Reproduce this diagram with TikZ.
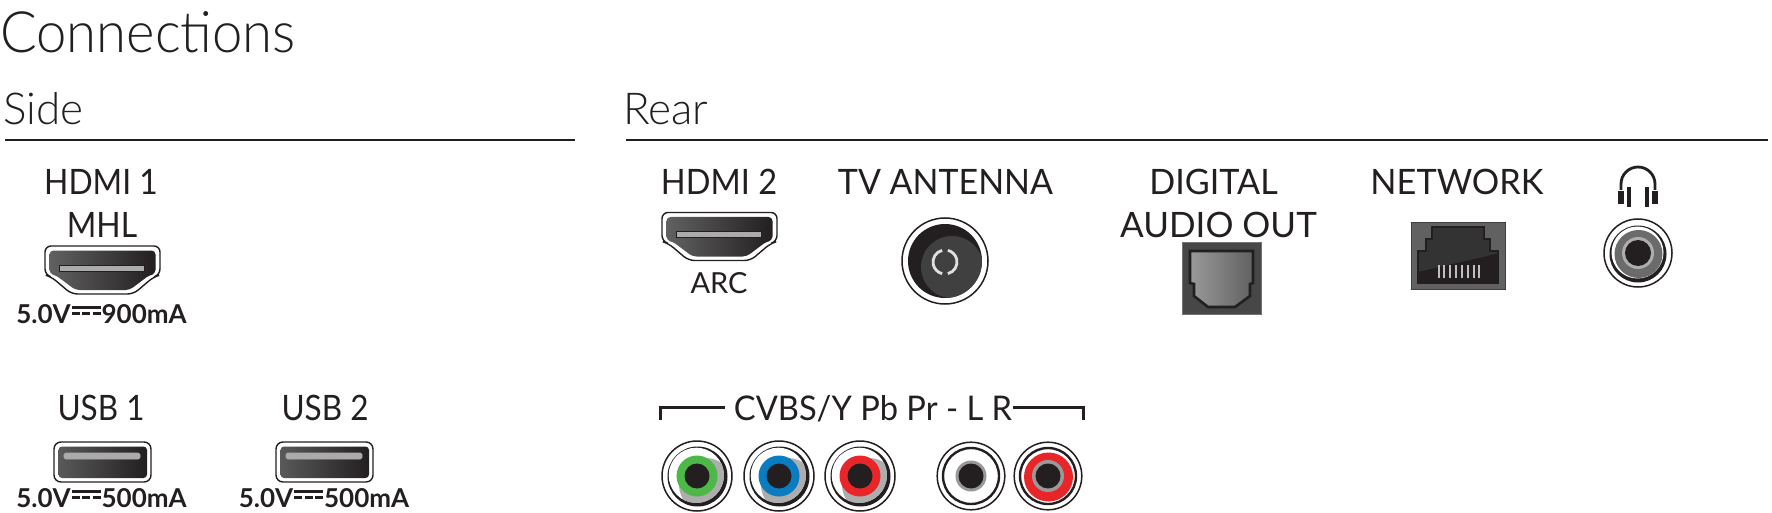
\documentclass[tikz,border=0pt]{standalone}
\usepackage{fontspec}
\usepackage{graphicx}
\setmainfont{Lato}
\newfontfamily\lightfont{Lato Light}
\definecolor{ink}{HTML}{231F20}
\definecolor{slotgray}{HTML}{ABABAB}
\tikzset{
  lbl/.style={anchor=base,inner sep=0pt,text=ink,font=\fontsize{35}{35}\selectfont},
  small/.style={anchor=base,inner sep=0pt,text=ink,font=\fontsize{29}{29}\selectfont},
  volt/.style={anchor=base,inner sep=0pt,text=ink,font=\bfseries\fontsize{26}{26}\selectfont},
  head/.style={anchor=base west,inner sep=0pt,text=ink,font=\lightfont\fontsize{44}{44}\selectfont},
  rule line/.style={draw=ink,line width=1.8pt},
  thinring/.style={draw=ink,line width=1.5pt,fill=white},
  bracket/.style={draw=ink,line width=3pt}
}
\newcommand{\sq}[2]{\scalebox{#1}[1]{#2}}
\newcommand{\dcs}{\hspace{1pt}\rlap{\raisebox{14pt}{\rule{29pt}{3pt}}}\raisebox{8.5pt}{\rule{8pt}{3pt}\hspace{2.5pt}\rule{8pt}{3pt}\hspace{2.5pt}\rule{8pt}{3pt}}\hspace{1pt}}
% HDMI icon: centre x, top y
\newcommand{\hdmiicon}[2]{\begin{scope}[shift={(#1,#2)}]
  \draw[ink,line width=1.4pt,fill=white,rounded corners=6pt] (-57.5,0) -- (57.5,0) -- (57.5,29) -- (51,31) -- (31,48) -- (-31,48) -- (-51,31) -- (-57.5,29) -- cycle;
  \shade[left color=black!62,right color=ink,rounded corners=4pt] (-53,4.5) -- (53,4.5) -- (53,28) -- (47,29) -- (27,44) -- (-27,44) -- (-47,29) -- (-53,28) -- cycle;
  \fill[slotgray] (-43,19) rectangle (42,25);
  \draw[ink,line width=0.8pt] (-43,19) rectangle (42,25);
\end{scope}}
% USB icon: left, top
\newcommand{\usbicon}[2]{\begin{scope}[shift={(#1,#2)}]
  \draw[ink,line width=1.4pt,fill=white,rounded corners=7pt] (0,0) rectangle (97,40);
  \shade[left color=black!65,right color=ink,rounded corners=3.5pt] (4.5,4.5) rectangle (93,36);
  \draw[slotgray,fill=slotgray,line width=0.6pt,rounded corners=1.5pt] (10,11) rectangle (86,17);
\end{scope}}
% RCA socket: x, y, colour
\newcommand{\rca}[3]{\begin{scope}[shift={(#1,#2)}]
  \draw[thinring] (0,0) circle (35pt);
  \fill[ink] (0.5,0.5) circle (30pt);
  \fill[white] (-0.7,-0.7) circle (27.6pt);
  \begin{scope}
    \clip (-0.7,-0.7) circle (27.6pt);
    \fill[black!32] (9,9) circle (27pt);
  \end{scope}
  \fill[#3] (0,0) circle (20.5pt);
  \fill[ink] (0,0) circle (12.5pt);
\end{scope}}
\definecolor{rcagreen}{HTML}{4DB848}
\definecolor{rcablue}{HTML}{0A7CC1}
\definecolor{rcared}{HTML}{E8262A}
\begin{document}
\begin{tikzpicture}[x=1pt,y=-1pt]
\useasboundingbox (0,0) rectangle (1772,513);
% headings
\node[head,font=\lightfont\fontsize{57}{57}\selectfont] (title) at (0,53) {\sq{0.955}{Connections}};
\node[head] (side) at (3,125) {Side};
\node[head] (rear) at (623,125) {Rear};
\draw[rule line] (5,140) -- (575,140);
\draw[rule line] (626,140) -- (1768,140);
% left column
\node[lbl] (hdmione) at (101,195) {\sq{0.91}{HDMI 1}};
\node[lbl] (mhl) at (102,237) {\sq{0.91}{MHL}};
\hdmiicon{102.5}{246}
\node[volt] (v1) at (101.5,323) {5.0V\dcs 900mA};
\node[lbl] (usbone) at (101,420) {\sq{0.9}{USB 1}};
\usbicon{54}{442}
\node[volt] (v2) at (101.5,507) {5.0V\dcs 500mA};
\node[lbl] (usbtwo) at (325,420) {\sq{0.9}{USB 2}};
\usbicon{276}{442}
\node[volt] (v3) at (324,507) {5.0V\dcs 500mA};
% rear row 1
\node[lbl] (hdmitwo) at (719,195) {\sq{0.93}{HDMI 2}};
\hdmiicon{719.5}{212.5}
\node[small] (arc) at (719,293) {ARC};
\node[lbl] (tv) at (945.5,195) {\sq{0.97}{TV ANTENNA}};
\draw[thinring] (945,261) circle (43pt);
\fill[ink] (945,261) circle (37pt);
\begin{scope}
  \clip (945,261) circle (37pt);
  \fill[black!75] (952,267) circle (31pt);
\end{scope}
\draw[white!88!black,line width=2.8pt] (945,262) ++(-76:12pt) arc (-76:76:12pt);
\draw[white!88!black,line width=2.8pt] (945,262) ++(104:12pt) arc (104:256:12pt);
\node[lbl] (digital) at (1213.5,195) {\sq{0.975}{DIGITAL}};
\node[lbl] (audio) at (1218.5,237) {AUDIO OUT};
\fill[black!72,draw=black!55,line width=0.8pt] (1182,242) rectangle (1261,314);
\shade[left color=black!40,right color=black!62,draw=ink,line width=2.6pt] (1190,251) -- (1253,251) -- (1253,283) -- (1250,284) -- (1250,296) -- (1235,307) -- (1208,307) -- (1194,296) -- (1194,284) -- (1190,283) -- cycle;
\node[lbl] (net) at (1457,195) {\sq{0.98}{NETWORK}};
\fill[black!62,draw=black!75,line width=0.8pt] (1411,222) rectangle (1505,289);
\fill[black!80] (1418,283) -- (1418,251) -- (1426,251) -- (1426,239) -- (1432,239) -- (1432,227) -- (1484,227) -- (1484,239) -- (1490,239) -- (1490,251) -- (1498,251) -- (1498,283) -- cycle;
\draw[ink,line width=1.8pt] (1418,283) -- (1418,251) -- (1426,251) -- (1426,239) -- (1432,239) -- (1432,227) -- (1484,227) -- (1484,239) -- (1490,239) -- (1490,251) -- (1498,251) -- (1498,283) -- cycle;
\fill[ink] (1418,272) -- (1498,253.5) -- (1498,283) -- (1418,283) -- cycle;
\foreach \k in {0,...,7} \fill[black!25] ({1437.5+\k*5.85},265) rectangle ++(2,12.5);
% headphones
\draw[ink,line width=2.8pt] (1621,190) -- (1621,184) arc (180:0:17pt) -- (1655,190);
\fill[ink] (1618,191) rectangle (1624,204);
\fill[ink] (1627,187) rectangle (1631,207);
\fill[ink] (1645,187) rectangle (1649,207);
\fill[ink] (1652,191) rectangle (1658,204);
% jack
\draw[thinring] (1638,253) circle (34pt);
\fill[ink] (1638,254) circle (28.5pt);
\fill[white] (1637.5,252.5) circle (26pt);
\fill[black!58] (1638.5,254) circle (24pt);
\fill[black!32] (1638,253) circle (16pt);
\fill[ink] (1638,253) circle (13pt);
% rear row 2
\node[lbl] (cvbs) at (873,420) {\sq{0.96}{\fontsize{34}{34}\selectfont CVBS/Y Pb Pr - L R}};
\coordinate (bl) at (660,420);
\coordinate (br) at (1083,420);
\draw[bracket] (bl) |- ([xshift=-9pt,yshift=1pt]cvbs.west);
\draw[bracket] (br) |- ([xshift=1pt,yshift=1pt]cvbs.east);
\rca{697}{476}{rcagreen}
\rca{779}{476}{rcablue}
\rca{860}{476}{rcared}
% L
\draw[thinring] (971,476) circle (33.8pt);
\draw[ink,line width=2.4pt] (971,476) circle (28pt);
\fill[black!40] (971,476) circle (15.5pt);
\fill[ink] (971,476) circle (12.5pt);
% R
\draw[thinring] (1048,476) circle (33.8pt);
\draw[ink,line width=2.4pt] (1048,476) circle (28pt);
\fill[rcared] (1048.5,477) circle (24.5pt);
\fill[black!40] (1048,476) circle (16pt);
\fill[ink] (1048,476) circle (12.5pt);
\end{tikzpicture}
\end{document}
